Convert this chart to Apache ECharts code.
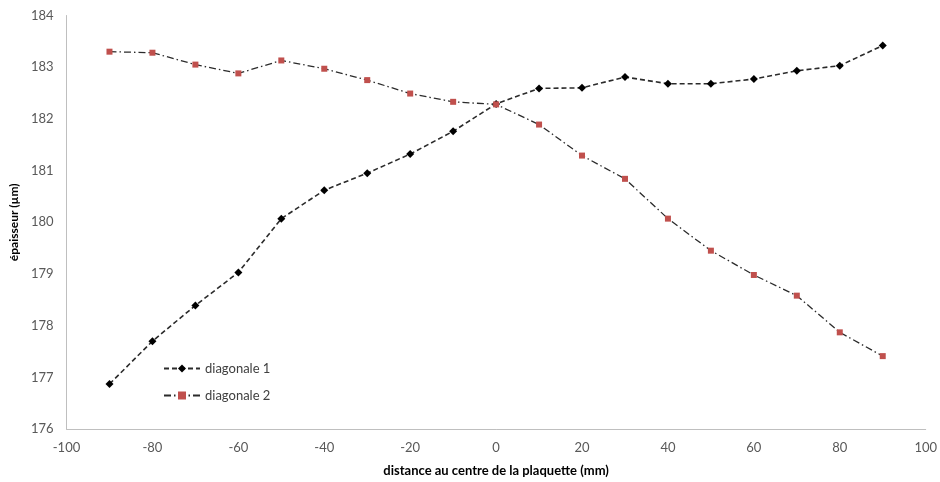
<!DOCTYPE html>
<html><head><meta charset="utf-8">
<script src="https://cdn.jsdelivr.net/npm/echarts@6/dist/echarts.min.js"></script>
<style>html,body{margin:0;padding:0;background:#fff}#c{width:940px;height:482px}</style>
</head><body><div id="c"></div>
<script>
var distances = [-90,-80,-70,-60,-50,-40,-30,-20,-10,0,10,20,30,40,50,60,70,80,90];
var diagonale1 = [176.87,177.70,178.39,179.03,180.07,180.62,180.95,181.32,181.76,182.29,182.59,182.60,182.81,182.68,182.68,182.77,182.93,183.03,183.42];
var diagonale2 = [183.30,183.28,183.05,182.88,183.13,182.97,182.75,182.49,182.33,182.28,181.89,181.29,180.84,180.07,179.45,178.98,178.58,177.87,177.41];
var seriesNames = ['diagonale 1','diagonale 2'];
var xTitle = 'distance au centre de la plaquette (mm)';
var yTitle = 'épaisseur (µm)';

function pairs(xs, ys){ return xs.map(function(x,i){ return [x, ys[i]]; }); }
var font = 'Lato, "Open Sans", sans-serif';
var chart = echarts.init(document.getElementById('c'));
chart.setOption({
  animation:false,
  backgroundColor:'#fff',
  textStyle:{fontFamily:font},
  grid:{left:63.5,right:14,top:15.5,bottom:51,containLabel:false},
  legend:{
    orient:'vertical', left:158, top:357, itemWidth:36, itemHeight:10, itemGap:14,
    textStyle:{fontFamily:font,fontSize:13,color:'#404040'},
    data:seriesNames
  },
  xAxis:{
    type:'value', min:-100, max:100, interval:20,
    name:xTitle, nameLocation:'middle', nameGap:35,
    nameTextStyle:{fontFamily:font,fontSize:13,fontWeight:'bold',color:'#000'},
    axisLine:{onZero:false,lineStyle:{color:'#BFBFBF',width:1}},
    axisTick:{show:false},
    splitLine:{show:false},
    axisLabel:{fontFamily:font,fontSize:13,color:'#595959',margin:12}
  },
  yAxis:{
    type:'value', min:176, max:184, interval:1,
    name:yTitle, nameLocation:'middle', nameGap:34, nameRotate:90,
    nameTextStyle:{fontFamily:font,fontSize:12,fontWeight:'bold',color:'#000'},
    axisLine:{show:true,onZero:false,lineStyle:{color:'#BFBFBF',width:1}},
    axisTick:{show:false},
    splitLine:{show:false},
    axisLabel:{fontFamily:font,fontSize:13,color:'#595959',margin:13}
  },
  series:[
    {
      name:seriesNames[0], type:'line', data:pairs(distances, diagonale1),
      symbol:'diamond', symbolSize:8,
      itemStyle:{color:'#000'},
      lineStyle:{color:'#2b2b2b',width:1.6,type:[5,3]}
    },
    {
      name:seriesNames[1], type:'line', data:pairs(distances, diagonale2),
      symbol:'rect', symbolSize:6,
      itemStyle:{color:'#C0504D'},
      lineStyle:{color:'#2b2b2b',width:1.3,type:[7,3,1.5,3]}
    }
  ]
});
</script></body></html>
